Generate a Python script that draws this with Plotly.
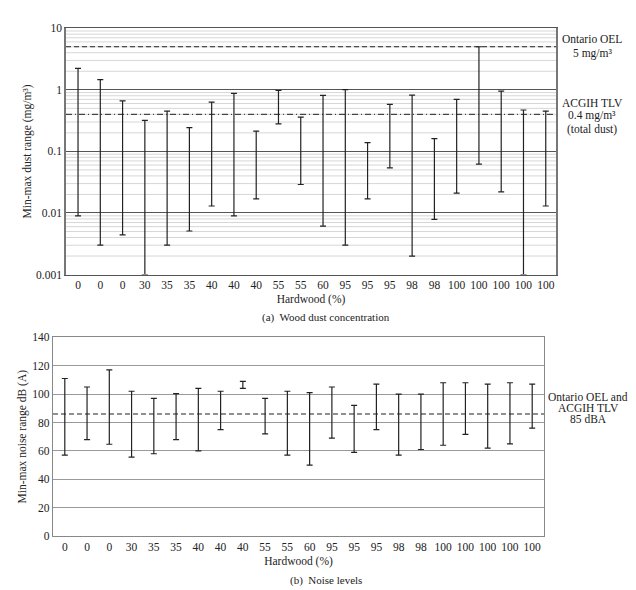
import plotly.graph_objects as go

# ---------------- data ----------------
hardwood_labels = ["0", "0", "0", "30", "35", "35", "40", "40", "40", "55", "55", "60",
                   "95", "95", "95", "98", "98", "100", "100", "100", "100", "100"]

dust_min = [0.009, 0.003, 0.0044, 0.001, 0.003, 0.0051, 0.013, 0.009, 0.017, 0.28, 0.029,
            0.0061, 0.003, 0.017, 0.054, 0.002, 0.0079, 0.021, 0.062, 0.022, 0.001, 0.013]
dust_max = [2.23, 1.46, 0.66, 0.32, 0.45, 0.243, 0.63, 0.875, 0.213, 0.975, 0.36,
            0.81, 1.01, 0.139, 0.578, 0.82, 0.161, 0.70, 5.0, 0.95, 0.47, 0.45]

noise_min = [57, 68, 64.7, 55.7, 58, 68, 60, 75, 104, 72, 57, 50, 69, 59, 75, 57, 61,
             64, 71.6, 62, 65, 76]
noise_max = [111, 105, 117, 102, 97, 100.4, 104, 102, 109, 97, 102, 101, 105, 92, 107,
             100, 100, 108, 108, 107, 108, 107]

dust_ticks = [0.001, 0.01, 0.1, 1, 10]
dust_tick_labels = ["0.001", "0.01", "0.1", "1", "10"]
noise_ticks = [0, 20, 40, 60, 80, 100, 120, 140]

dust_oel = 5.0
dust_tlv = 0.4
noise_limit = 86

FONT = "Liberation Serif"
W, H = 636, 590


def px_x(p):
    return p / W


def px_y(p):
    return 1 - p / H


x_idx = list(range(len(hardwood_labels)))

fig = go.Figure()

# top panel: dust ranges
fig.add_trace(go.Scatter(
    x=x_idx, y=dust_min, mode="markers", marker=dict(size=1, opacity=0),
    error_y=dict(type="data", symmetric=False,
                 array=[mx - mn for mn, mx in zip(dust_min, dust_max)],
                 arrayminus=[0] * len(dust_min),
                 color="#222222", thickness=1.2, width=3),
    xaxis="x", yaxis="y", showlegend=False, hoverinfo="skip"))

# bottom panel: noise ranges
fig.add_trace(go.Scatter(
    x=x_idx, y=noise_min, mode="markers", marker=dict(size=1, opacity=0),
    error_y=dict(type="data", symmetric=False,
                 array=[mx - mn for mn, mx in zip(noise_min, noise_max)],
                 arrayminus=[0] * len(noise_min),
                 color="#222222", thickness=1.2, width=3),
    xaxis="x2", yaxis="y2", showlegend=False, hoverinfo="skip"))

shapes = []
# minor log gridlines (2..9 per decade) for the top panel
for base in dust_ticks[:-1]:
    for m in range(2, 10):
        v = m * base
        shapes.append(dict(type="line", xref="x domain", yref="y", x0=0, x1=1,
                           y0=v, y1=v, line=dict(color="#d6d6d6", width=1),
                           layer="below"))
# threshold lines
shapes.append(dict(type="line", xref="x domain", yref="y", x0=0, x1=1,
                   y0=dust_oel, y1=dust_oel, line=dict(color="#222222", width=1, dash="5px,3px")))
shapes.append(dict(type="line", xref="x domain", yref="y", x0=0, x1=1,
                   y0=dust_tlv, y1=dust_tlv, line=dict(color="#222222", width=1, dash="6px,3px,1px,3px")))
shapes.append(dict(type="line", xref="x2 domain", yref="y2", x0=0, x1=1,
                   y0=noise_limit, y1=noise_limit, line=dict(color="#222222", width=1, dash="5px,3px")))

tfont = dict(family=FONT, size=11.5, color="#222222")

fig.update_layout(
    width=W, height=H,
    margin=dict(l=0, r=0, t=0, b=0),
    paper_bgcolor="white", plot_bgcolor="white",
    font=tfont,
    shapes=shapes,
    xaxis=dict(domain=[px_x(58), px_x(548)], anchor="y", range=[-0.54, 21.46],
               tickvals=x_idx, ticktext=hardwood_labels, showgrid=False, zeroline=False,
               showline=True, mirror=True, linecolor="#555555", linewidth=1,
               ticks="", tickfont=tfont,
               title=dict(text="Hardwood (%)", font=tfont, standoff=4)),
    yaxis=dict(domain=[px_y(266), px_y(14.5)], anchor="x", type="log", range=[-3, 1],
               tickvals=dust_ticks, ticktext=dust_tick_labels, showgrid=True,
               gridcolor="#555555", gridwidth=1, zeroline=False, showline=True,
               mirror=True, linecolor="#777777", linewidth=1.5, ticks="", tickfont=tfont,
               title=dict(text="Min-max dust range (mg/m³)", font=tfont, standoff=2)),
    xaxis2=dict(domain=[px_x(45), px_x(536)], anchor="y2", range=[-0.53, 21.53],
                tickvals=x_idx, ticktext=hardwood_labels, showgrid=False, zeroline=False,
                showline=True, mirror=True, linecolor="#888888", linewidth=1.2,
                ticks="", tickfont=tfont,
                title=dict(text="Hardwood (%)", font=tfont, standoff=4)),
    yaxis2=dict(domain=[px_y(533), px_y(330)], anchor="x2", range=[0, 140],
                tickvals=noise_ticks, showgrid=True,
                gridcolor="#999999", gridwidth=1.3, zeroline=False, showline=True,
                mirror=True, linecolor="#888888", linewidth=1.2, ticks="", tickfont=tfont,
                title=dict(text="Min-max noise range dB (A)", font=tfont, standoff=3)),
)

ann = []


def add_text(x, y, text, size=11.5, angle=0, xanchor="center"):
    ann.append(dict(x=px_x(x), y=px_y(y), xref="paper", yref="paper", text=text,
                    showarrow=False, textangle=angle, xanchor=xanchor, yanchor="middle",
                    font=dict(family=FONT, size=size, color="#222222")))


add_text(318, 310, "(a)  Wood dust concentration", size=11)
add_text(584, 26, "Ontario OEL")
add_text(584, 40, "5 mg/m³")
add_text(584, 91, "ACGIH TLV")
add_text(584, 104, "0.4 mg/m³")
add_text(584, 118, "(total dust)")

add_text(318, 578, "(b)  Noise levels", size=11)
add_text(580, 391, "Ontario OEL and")
add_text(580, 402, "ACGIH TLV")
add_text(580, 413, "85 dBA")

fig.update_layout(annotations=ann)

fig.write_html("out.html")
